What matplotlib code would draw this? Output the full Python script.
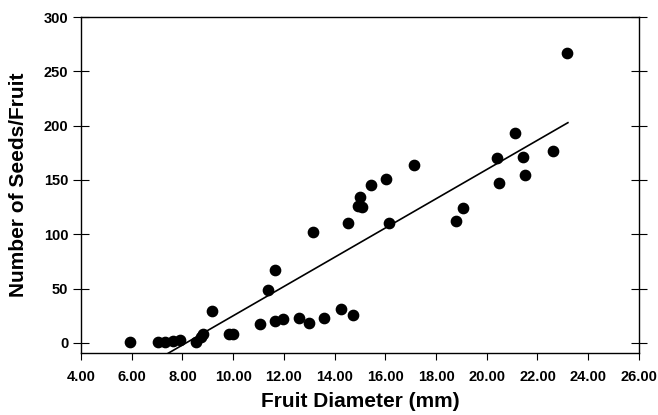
import numpy as np
import matplotlib
matplotlib.use('Agg')
import matplotlib.pyplot as plt

plt.rcParams['font.family'] = ['Liberation Sans', 'DejaVu Sans']
plt.rcParams['font.weight'] = 'bold'

# fruit diameter (mm) and number of seeds per fruit
diameter = [5.92, 7.05, 7.33, 7.62, 7.90, 8.53, 8.72, 8.80, 9.15, 9.82,
            9.98, 11.06, 11.39, 11.65, 11.65, 11.97, 12.58, 13.01, 13.14, 13.58,
            14.26, 14.52, 14.72, 14.92, 15.02, 15.10, 15.45, 16.02, 16.16, 17.12,
            18.80, 19.06, 20.42, 20.50, 21.11, 21.42, 21.51, 22.60, 23.18]
seeds = [1, 1, 1, 2, 3, 1, 5, 8, 29, 8,
         8, 17, 49, 67, 20, 22, 23, 18, 102, 23,
         31, 110, 26, 126, 134, 125, 145, 151, 110, 164,
         112, 124, 170, 147, 193, 171, 155, 177, 267]

# regression line as drawn
slope = 13.47
intercept = -109.8
fit_range = [7.0, 23.2]

xticks = np.arange(4, 27, 2)
yticks = [0, 50, 100, 150, 200, 250, 300]

fig = plt.figure(figsize=(6.58, 4.15), dpi=100)
ax = fig.add_axes([0.123, 0.149, 0.848, 0.810])

ax.scatter(diameter, seeds, s=55, color='black', zorder=3)
xf = np.array(fit_range)
ax.plot(xf, slope * xf + intercept, color='black', lw=1.2)

ax.set_xlim(4, 26)
ax.set_ylim(-9.5, 300)
ax.set_xticks(xticks)
ax.set_xticklabels(['%.2f' % v for v in xticks])
ax.set_yticks(yticks)

ax.tick_params(axis='x', direction='out', length=5, width=0.8, pad=7, labelsize=10.5)
ax.tick_params(axis='y', direction='inout', length=12, width=0.8, pad=3,
               labelsize=10.5, right=True)

for s in ax.spines.values():
    s.set_linewidth(1.0)

ax.set_xlabel('Fruit Diameter (mm)', fontsize=15, fontweight='bold')
ax.set_ylabel('Number of Seeds/Fruit', fontsize=15, fontweight='bold')
ax.xaxis.set_label_coords(0.5, -0.115)
ax.yaxis.set_label_coords(-0.095, 0.5)

fig.savefig('out.png', dpi=100)
